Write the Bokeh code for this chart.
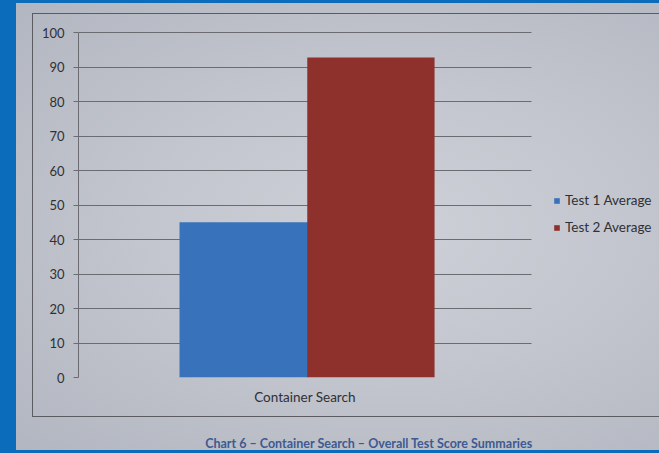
from bokeh.plotting import figure
from bokeh.models import (ColumnDataSource, Legend, LegendItem,
                          Range1d, FixedTicker)
from bokeh.transform import dodge
from bokeh.embed import file_html
from bokeh.resources import INLINE

# ---- data ----
categories = ["Container Search"]
test1_average = [45]
test2_average = [92.8]
series_names = ["Test 1 Average", "Test 2 Average"]
y_ticks = [0, 10, 20, 30, 40, 50, 60, 70, 80, 90, 100]
caption = "Chart 6 \u2013 Container Search \u2013 Overall Test Score Summaries"

BLUE_BG = "#0a6cbb"
BAR1 = "#3872ba"
BAR2 = "#8e302b"
GRID = "#6a6c72"
TEXT = "#2f3036"
FONT = "Lato"
BOX = "#5a5c62"

W, H = 659, 453

bg = ", ".join([
    f"linear-gradient({BOX},{BOX}) 32px 13px / 627px 1px no-repeat",
    f"linear-gradient({BOX},{BOX}) 32px 13px / 1px 404px no-repeat",
    f"linear-gradient({BOX},{BOX}) 32px 416px / 627px 1px no-repeat",
    "radial-gradient(ellipse at 58% 50%, #cdd0d7 0%, #c3c6ce 45%, #b2b6c0 100%) 16px 3px / 643px 447px no-repeat",
    BLUE_BG,
])

# category slots: one unit per category; the frame also holds the legend area
cat_pos = [i + 0.5 for i in range(len(categories))]
n = len(categories)
x_end = n * (W - 78) / 453.0

p = figure(width=W, height=H, output_backend="svg", toolbar_location=None,
           x_range=Range1d(0, x_end), y_range=Range1d(0, 100.6),
           min_border_left=78, min_border_right=0, min_border_top=30,
           min_border_bottom=75, styles={"background": bg})
p.border_fill_color = None
p.background_fill_color = None
p.outline_line_color = None

src = ColumnDataSource(dict(x=cat_pos, t1=test1_average, t2=test2_average))
r1 = p.vbar(x=dodge("x", -0.135), top="t1", width=0.284,
            source=src, fill_color=BAR1, line_color=None)
r2 = p.vbar(x=dodge("x", 0.1455), top="t2", width=0.281,
            source=src, fill_color=BAR2, line_color=None)

# axes
p.yaxis.ticker = FixedTicker(ticks=y_ticks)
p.yaxis.bounds = (0, 100)
p.yaxis.axis_line_color = GRID
p.yaxis.major_tick_line_color = GRID
p.yaxis.major_tick_out = 5
p.yaxis.major_tick_in = 0
p.yaxis.minor_tick_line_color = None
p.yaxis.major_label_standoff = 9
p.yaxis.major_label_text_font = FONT
p.yaxis.major_label_text_font_size = "13px"
p.yaxis.major_label_text_color = TEXT

p.xaxis.ticker = FixedTicker(ticks=cat_pos)
p.xaxis.major_label_overrides = {cp: c for cp, c in zip(cat_pos, categories)}
p.xaxis.axis_line_color = None
p.xaxis.major_tick_line_color = None
p.xaxis.major_tick_out = 0
p.xaxis.major_tick_in = 0
p.xaxis.minor_tick_line_color = None
p.xaxis.minor_tick_out = 0
p.xaxis.major_label_standoff = 11
p.xaxis.major_label_text_font = FONT
p.xaxis.major_label_text_font_size = "13.5px"
p.xaxis.major_label_text_color = TEXT
p.xaxis.axis_label = caption
p.xaxis.axis_label_standoff = 28
p.xaxis.axis_label_text_font = FONT
p.xaxis.axis_label_text_font_size = "12.5px"
p.xaxis.axis_label_text_font_style = "bold"
p.xaxis.axis_label_text_color = "#3d5a92"

p.xgrid.grid_line_color = None
p.ygrid.grid_line_color = GRID
p.ygrid.grid_line_width = 1
p.ygrid.ticker = FixedTicker(ticks=y_ticks)
p.ygrid.cross_bounds = (0, n)

legend = Legend(items=[LegendItem(label=series_names[0], renderers=[r1]),
                       LegendItem(label=series_names[1], renderers=[r2])],
                location=(475, 140), padding=0, margin=0, spacing=7,
                glyph_width=7, glyph_height=7, label_height=20,
                label_standoff=5, border_line_color=None,
                background_fill_alpha=0, label_text_font=FONT,
                label_text_font_size="13.5px", label_text_color=TEXT)
p.add_layout(legend, "center")

open("out.html", "w").write(file_html(p, INLINE))
